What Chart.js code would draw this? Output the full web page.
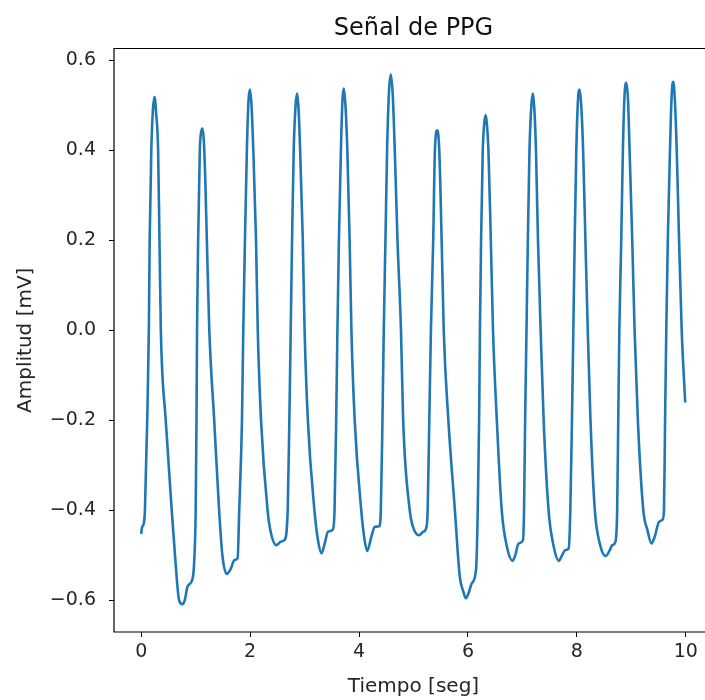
<!DOCTYPE html>
<html>
<head>
<meta charset="utf-8">
<title>Señal de PPG</title>
<script src="https://cdn.jsdelivr.net/npm/chart.js@4"></script>
<style>
  html, body { margin: 0; padding: 0; background: #fff; width: 705px; height: 700px; overflow: hidden; }
  #wrap { width: 705px; height: 700px; overflow: hidden; position: relative; }
  canvas { display: block; position: absolute; left: 0; top: 0; }
</style>
</head>
<body>
<div id="wrap">
  <canvas id="ppgChart" width="713" height="700"></canvas>
</div>
<script>
// tiempo (s) y amplitud (mV), leidos a mano del grafico
const tSeg = [
  0.00, 0.01, 0.05, 0.068, 0.11, 0.14, 0.155, 0.185, 0.215, 0.245, 0.275, 0.31, 0.335, 0.36, 0.45, 0.56, 0.62, 0.695, 0.755, 0.80, 0.85, 0.94, 0.97,
  1.00, 1.015, 1.025, 1.045, 1.076, 1.10, 1.125, 1.15, 1.175, 1.205, 1.25, 1.34, 1.43, 1.49, 1.57, 1.65, 1.71, 1.77,
  1.80, 1.85, 1.874, 1.905, 1.94, 1.97, 1.997, 2.025, 2.058, 2.108, 2.14, 2.20, 2.32, 2.384, 2.48, 2.57, 2.63,
  2.69, 2.72, 2.745, 2.77, 2.80, 2.835, 2.863, 2.89, 2.918, 2.967, 3.00, 3.06, 3.18, 3.25, 3.31, 3.37, 3.43, 3.52,
  3.55, 3.58, 3.603, 3.63, 3.667, 3.695, 3.72, 3.75, 3.785, 3.827, 3.86, 3.92, 4.04, 4.10, 4.15, 4.227, 4.29, 4.37,
  4.40, 4.43, 4.454, 4.485, 4.515, 4.55, 4.583, 4.62, 4.656, 4.706, 4.77, 4.81, 4.93, 4.99, 5.10, 5.18, 5.23,
  5.26, 5.29, 5.32, 5.362, 5.393, 5.436, 5.473, 5.517, 5.555, 5.64, 5.76, 5.85, 5.915, 5.96, 6.01, 6.07, 6.15,
  6.18, 6.205, 6.22, 6.241, 6.272, 6.30, 6.328, 6.35, 6.376, 6.42, 6.46, 6.53, 6.62, 6.715, 6.82, 6.87, 6.93, 7.01,
  7.03, 7.05, 7.075, 7.10, 7.13, 7.165, 7.193, 7.22, 7.249, 7.286, 7.335, 7.39, 7.48, 7.575, 7.67, 7.73, 7.79, 7.85,
  7.88, 7.91, 7.935, 7.96, 7.99, 8.02, 8.05, 8.08, 8.115, 8.157, 8.20, 8.25, 8.33, 8.42, 8.53, 8.605, 8.65, 8.71,
  8.74, 8.76, 8.78, 8.815, 8.845, 8.875, 8.907, 8.94, 8.968, 9.017, 9.06, 9.12, 9.22, 9.295, 9.37, 9.43, 9.51, 9.57,
  9.60, 9.62, 9.642, 9.67, 9.71, 9.74, 9.77, 9.80, 9.834, 9.877, 9.925, 9.99
];
const amp = [
  -0.453, -0.441, -0.428, -0.40, -0.20, 0.00, 0.20, 0.40, 0.49, 0.518, 0.48, 0.40, 0.20, 0.00, -0.20, -0.40, -0.50, -0.60, -0.609, -0.600, -0.570, -0.554, -0.52,
  -0.40, -0.20, 0.00, 0.20, 0.40, 0.44, 0.448, 0.42, 0.34, 0.20, 0.00, -0.20, -0.40, -0.50, -0.542, -0.529, -0.511, -0.507,
  -0.40, -0.20, 0.00, 0.20, 0.40, 0.51, 0.535, 0.50, 0.40, 0.20, 0.00, -0.20, -0.40, -0.452, -0.478, -0.470, -0.467,
  -0.40, -0.20, 0.00, 0.20, 0.40, 0.50, 0.526, 0.49, 0.40, 0.20, 0.00, -0.20, -0.40, -0.47, -0.496, -0.474, -0.448, -0.443,
  -0.40, -0.20, 0.00, 0.20, 0.40, 0.51, 0.537, 0.50, 0.40, 0.20, 0.00, -0.20, -0.40, -0.465, -0.491, -0.459, -0.437, -0.436,
  -0.40, -0.20, 0.00, 0.20, 0.40, 0.53, 0.568, 0.52, 0.40, 0.20, 0.00, -0.20, -0.40, -0.437, -0.456, -0.448, -0.441,
  -0.40, -0.20, 0.00, 0.20, 0.40, 0.444, 0.40, 0.20, 0.00, -0.20, -0.40, -0.548, -0.581, -0.596, -0.585, -0.563, -0.53,
  -0.40, -0.20, 0.00, 0.20, 0.40, 0.46, 0.478, 0.455, 0.40, 0.20, 0.00, -0.20, -0.40, -0.481, -0.513, -0.500, -0.474, -0.467,
  -0.40, -0.20, 0.00, 0.20, 0.40, 0.50, 0.526, 0.49, 0.40, 0.20, 0.00, -0.20, -0.40, -0.481, -0.513, -0.500, -0.489, -0.485,
  -0.40, -0.20, 0.00, 0.20, 0.40, 0.51, 0.535, 0.50, 0.40, 0.20, 0.00, -0.20, -0.40, -0.474, -0.502, -0.489, -0.478, -0.470,
  -0.40, -0.20, 0.00, 0.20, 0.40, 0.52, 0.550, 0.51, 0.40, 0.20, 0.00, -0.20, -0.40, -0.444, -0.474, -0.459, -0.426, -0.422,
  -0.40, -0.20, 0.00, 0.20, 0.40, 0.52, 0.552, 0.51, 0.40, 0.20, 0.00, -0.161
];
const xTicks = [0, 2, 4, 6, 8, 10];
const yTicks = [-0.6, -0.4, -0.2, 0.0, 0.2, 0.4, 0.6];

Chart.defaults.font.family = "'DejaVu Sans', sans-serif";
Chart.defaults.color = '#262626';

// ejes izquierdo, superior e inferior (el derecho queda fuera de la imagen) y titulo centrado
const frame = {
  id: 'frame',
  afterDraw(chart) {
    const { ctx, chartArea: a } = chart;
    const edge = 705;
    ctx.save();
    ctx.strokeStyle = '#000';
    ctx.lineWidth = 1.2;
    ctx.beginPath();
    ctx.moveTo(edge, a.top);
    ctx.lineTo(a.left, a.top);
    ctx.lineTo(a.left, a.bottom);
    ctx.lineTo(edge, a.bottom);
    ctx.stroke();
    ctx.fillStyle = '#111';
    ctx.font = "24px 'DejaVu Sans', sans-serif";
    ctx.textAlign = 'center';
    ctx.textBaseline = 'alphabetic';
    ctx.fillText('Señal de PPG', (a.left + a.right) / 2, 35);
    ctx.restore();
  }
};

const ctx = document.getElementById('ppgChart').getContext('2d');
new Chart(ctx, {
  type: 'line',
  data: {
    datasets: [{
      data: tSeg.map((t, i) => ({ x: t, y: amp[i] })),
      borderColor: '#1f77b4',
      borderWidth: 2.6,
      pointRadius: 0,
      fill: false,
      cubicInterpolationMode: 'monotone'
    }]
  },
  options: {
    responsive: false,
    animation: false,
    layout: { padding: { top: 48.5, right: 0, bottom: 0, left: 0 } },
    plugins: {
      legend: { display: false },
      tooltip: { enabled: false },
      title: { display: false }
    },
    scales: {
      x: {
        type: 'linear',
        min: -0.5,
        max: 10.5,
        afterBuildTicks: s => { s.ticks = xTicks.map(v => ({ value: v })); },
        afterFit: s => { s.height = 68; },
        ticks: { font: { size: 19 }, padding: 4, maxRotation: 0 },
        grid: { drawOnChartArea: false, tickLength: 5, color: '#000' },
        border: { display: false },
        title: {
          display: true,
          text: 'Tiempo [seg]',
          font: { size: 20 },
          padding: { top: 0, bottom: 1 }
        }
      },
      y: {
        min: -0.671,
        max: 0.626,
        afterBuildTicks: s => { s.ticks = yTicks.map(v => ({ value: v })); },
        afterFit: s => { s.width = 114; },
        ticks: {
          font: { size: 19 },
          padding: 13,
          callback: v => v.toFixed(1).replace('-', '\u2212')
        },
        grid: { drawOnChartArea: false, tickLength: 5, color: '#000' },
        border: { display: false },
        title: {
          display: true,
          text: 'Amplitud [mV]',
          font: { size: 20 },
          padding: { top: 14, bottom: 0 }
        }
      }
    }
  },
  plugins: [frame]
});
</script>
</body>
</html>
